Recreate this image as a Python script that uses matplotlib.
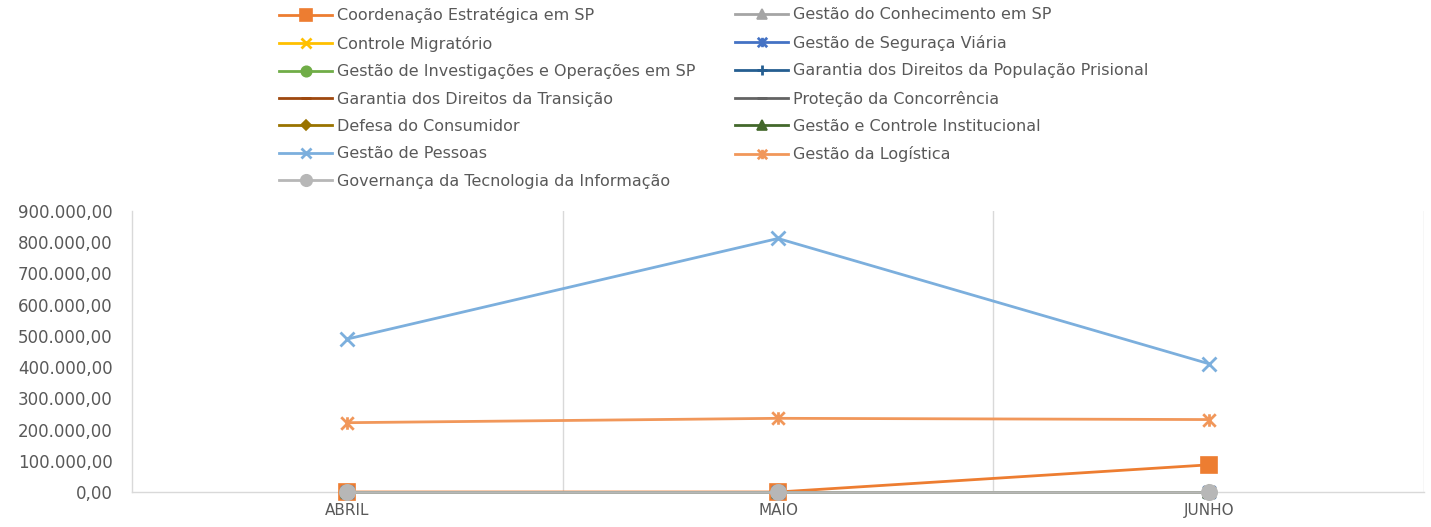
import matplotlib
matplotlib.use("Agg")
import matplotlib.pyplot as plt
from matplotlib.path import Path
from matplotlib.ticker import FuncFormatter

months = ["ABRIL", "MAIO", "JUNHO"]

series_names = [
    "Coordenação Estratégica em SP",
    "Gestão do Conhecimento em SP",
    "Controle Migratório",
    "Gestão de Seguraça Viária",
    "Gestão de Investigações e Operações em SP",
    "Garantia dos Direitos da População Prisional",
    "Garantia dos Direitos da Transição",
    "Proteção da Concorrência",
    "Defesa do Consumidor",
    "Gestão e Controle Institucional",
    "Gestão de Pessoas",
    "Gestão da Logística",
    "Governança da Tecnologia da Informação",
]

coordenacao = [0, 0, 87000]
conhecimento = [0, 0, 0]
migratorio = [0, 0, 0]
viaria = [0, 0, 0]
investigacoes = [0, 0, 0]
prisional = [0, 0, 0]
transicao = [0, 0, 0]
concorrencia = [0, 0, 0]
consumidor = [0, 0, 0]
institucional = [0, 0, 0]
pessoas = [490000, 812000, 411000]
logistica = [222000, 236000, 232000]
governanca = [0, 0, 0]

values = [coordenacao, conhecimento, migratorio, viaria, investigacoes,
          prisional, transicao, concorrencia, consumidor, institucional,
          pessoas, logistica, governanca]

colors = ["#ED7D31", "#A5A5A5", "#FFC000", "#4472C4", "#70AD47", "#255E91",
          "#9E480E", "#636363", "#997300", "#43682B", "#7CAFDD", "#F1975A",
          "#B7B7B7"]

# Excel-style "star": an x with a vertical stroke through it
star = Path([(-1, -1), (1, 1), (-1, 1), (1, -1), (0, -1), (0, 1)],
            [Path.MOVETO, Path.LINETO, Path.MOVETO, Path.LINETO, Path.MOVETO, Path.LINETO])
markers = ["s", "^", "x", star, "o", "+", "_", "_", "D", "^", "x", star, "o"]
msizes = [11, 9, 9, 9, 10, 10, 9, 9, 7, 9, 10, 9, 11]
line_markers = ("x", "+", "_")

plt.rcParams["font.family"] = ["DejaVu Sans"]
fig = plt.figure(figsize=(14.31, 5.27), dpi=100)
ax = fig.add_axes([132 / 1431, 35 / 527, (1424 - 132) / 1431, (492 - 211) / 527])

x = list(range(len(months)))
handles = []
for name, vals, c, m, ms in zip(series_names, values, colors, markers, msizes):
    mew = 2 if (m is star or m in line_markers) else 1.2
    h, = ax.plot(x, vals, color=c, lw=2, marker=m, markersize=ms,
                 markeredgewidth=mew, label=name, clip_on=False, zorder=3)
    handles.append(h)

ax.set_xlim(-0.5, 2.5)
ax.set_ylim(0, 900000)
ax.set_yticks(range(0, 900001, 100000))
ax.yaxis.set_major_formatter(FuncFormatter(
    lambda v, p: f"{v:,.2f}".replace(",", "X").replace(".", ",").replace("X", ".")))
ax.set_xticks(x)
ax.set_xticklabels(months)
ax.set_xticks([0.5, 1.5, 2.5], minor=True)
ax.grid(True, axis="x", which="minor", color="#D9D9D9", lw=1)
ax.tick_params(axis="both", which="both", length=0, colors="#595959")
ax.tick_params(axis="y", labelsize=12, pad=14)
ax.tick_params(axis="x", labelsize=11, pad=8)
for s in ["top", "right"]:
    ax.spines[s].set_visible(False)
for s in ["left", "bottom"]:
    ax.spines[s].set_color("#D9D9D9")
    ax.spines[s].set_linewidth(1)

# legend: two columns, row-major order like the original
col1 = handles[0::2]
col2 = handles[1::2]
for hs, xpos in [(col1, 268 / 1431), (col2, 724 / 1431)]:
    leg = fig.legend(handles=hs, labels=[h.get_label() for h in hs],
                     loc="upper left", bbox_to_anchor=(xpos, 1.0 + 4 / 527),
                     frameon=False, fontsize=11.5, handlelength=3.3,
                     handletextpad=0.35, labelspacing=0.78, borderpad=0.2,
                     markerscale=0.75)
    for t in leg.get_texts():
        t.set_color("#595959")

fig.savefig("out.png", dpi=100)
